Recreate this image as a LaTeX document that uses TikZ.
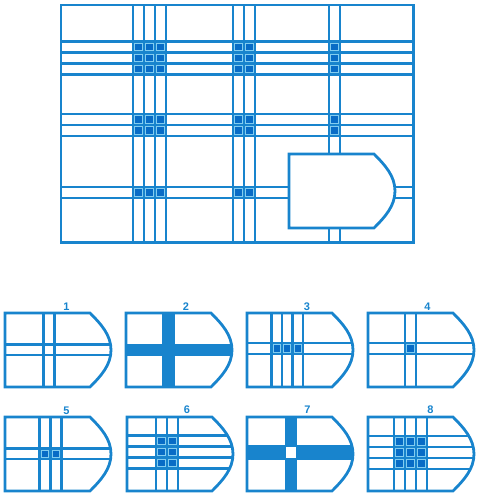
\documentclass[tikz,border=0pt]{standalone}
\usepackage{fontspec}
\setmainfont{Liberation Sans}
\definecolor{ln}{RGB}{24,132,205}
\definecolor{sqf}{RGB}{8,108,198}
\definecolor{sqb}{RGB}{130,205,240}
\tikzset{
  gl/.style={draw=ln,line width=2.2pt},
  fr/.style={draw=ln,line width=2.8pt,line join=miter},
  sqs/.style={fill=sqf,draw=sqb,line width=0.9pt},
  lab/.style={text=ln,font=\bfseries\fontsize{11}{11}\selectfont,inner sep=0pt}
}
\newcommand\shieldP{(0,0) -- (85,0) .. controls (96,11) and (106,22) .. (106,37) .. controls (106,52) and (96,63) .. (85,74) -- (0,74) -- cycle}
\newcommand\mysq[4]{\path[sqs] (#1+1.7,#2+1.7) rectangle (#1+#3-1.7,#2+#4-1.7);}
\begin{document}
\begin{tikzpicture}[x=1pt,y=-1pt]
\useasboundingbox (0,0) rectangle (480,503);
% ---------- main picture ----------
\foreach \x in {133,144,155,166,233,244,255,329,340}
  {\draw[gl] (\x,5) -- (\x,242.5);}
\foreach \y in {41.5,52.5,63.5,74.5,114,125,136,187,198}
  {\draw[gl] (61,\y) -- (413.5,\y);}
\foreach \cy in {41.5,52.5,63.5,114,125}
  {\foreach \cx in {133,144,155,233,244,329}
    {\mysq{\cx}{\cy}{11}{11}}}
\foreach \cx in {133,144,155,233,244}
  {\mysq{\cx}{187}{11}{11}}
\begin{scope}[shift={(289,154)}]
  \path[fill=white] \shieldP;
  \draw[fr] \shieldP;
\end{scope}
\draw[fr] (61,5) rectangle (413.5,242.5);
% ---------- option 1 ----------
\begin{scope}[shift={(5,313)}]
  \begin{scope}
    \clip \shieldP;
    \foreach \x in {38.5,49.5} {\draw[gl] (\x,-3) -- (\x,77);}
    \foreach \y in {31.5,42} {\draw[gl] (-3,\y) -- (110,\y);}
  \end{scope}
  \draw[fr] \shieldP;
  \node[lab] (l1) at (61.5,-6.5) {1};
\end{scope}
% ---------- option 2 ----------
\begin{scope}[shift={(126,313)}]
  \begin{scope}
    \clip \shieldP;
    \fill[ln] (36.3,-3) rectangle (49,77);
    \fill[ln] (-3,31) rectangle (110,42.7);
  \end{scope}
  \draw[fr] \shieldP;
  \node[lab] (l2) at (60,-6.5) {2};
\end{scope}
% ---------- option 3 ----------
\begin{scope}[shift={(247,313)}]
  \begin{scope}
    \clip \shieldP;
    \foreach \x in {24.5,35,45.5,56} {\draw[gl] (\x,-3) -- (\x,77);}
    \foreach \y in {30,40.7} {\draw[gl] (-3,\y) -- (110,\y);}
  \end{scope}
  \foreach \x in {24.5,35,45.5} {\mysq{\x}{30}{10.5}{10.7}}
  \draw[fr] \shieldP;
  \node[lab] (l3) at (60,-6.5) {3};
\end{scope}
% ---------- option 4 ----------
\begin{scope}[shift={(368,313)}]
  \begin{scope}
    \clip \shieldP;
    \foreach \x in {37,48} {\draw[gl] (\x,-3) -- (\x,77);}
    \foreach \y in {30,40.7} {\draw[gl] (-3,\y) -- (110,\y);}
  \end{scope}
  \mysq{37}{30}{11}{10.7}
  \draw[fr] \shieldP;
  \node[lab] (l4) at (59.5,-6.5) {4};
\end{scope}
% ---------- option 5 ----------
\begin{scope}[shift={(5,417)}]
  \begin{scope}
    \clip \shieldP;
    \foreach \x in {34.5,45.5,56.5} {\draw[gl] (\x,-3) -- (\x,77);}
    \foreach \y in {31.5,42} {\draw[gl] (-3,\y) -- (110,\y);}
  \end{scope}
  \foreach \x in {34.5,45.5} {\mysq{\x}{31.5}{11}{10.5}}
  \draw[fr] \shieldP;
  \node[lab] (l5) at (61.5,-6.5) {5};
\end{scope}
% ---------- option 6 ----------
\begin{scope}[shift={(127,417)}]
  \begin{scope}
    \clip \shieldP;
    \foreach \x in {29,40,51} {\draw[gl] (\x,-3) -- (\x,77);}
    \foreach \y in {18.5,29.5,40.5,51.5} {\draw[gl] (-3,\y) -- (110,\y);}
  \end{scope}
  \foreach \x in {29,40}
    {\foreach \y in {18.5,29.5,40.5}
      {\mysq{\x}{\y}{11}{11}}}
  \draw[fr] \shieldP;
  \node[lab] (l6) at (60,-7) {6};
\end{scope}
% ---------- option 7 ----------
\begin{scope}[shift={(247,417)}]
  \begin{scope}
    \clip \shieldP;
    \fill[ln] (37.7,-3) rectangle (50,77);
    \fill[ln] (-3,28.3) rectangle (110,42.6);
    \fill[white] (39.2,29.8) rectangle (48.5,41.1);
  \end{scope}
  \draw[fr] \shieldP;
  \node[lab] (l7) at (60.5,-7) {7};
\end{scope}
% ---------- option 8 ----------
\begin{scope}[shift={(368,417)}]
  \begin{scope}
    \clip \shieldP;
    \foreach \x in {25.7,36.7,47.7,58.7} {\draw[gl] (\x,-3) -- (\x,77);}
    \foreach \y in {18.7,29.7,40.7,51.7} {\draw[gl] (-3,\y) -- (110,\y);}
  \end{scope}
  \foreach \x in {25.7,36.7,47.7}
    {\foreach \y in {18.7,29.7,40.7}
      {\mysq{\x}{\y}{11}{11}}}
  \draw[fr] \shieldP;
  \node[lab] (l8) at (62.5,-7.5) {8};
\end{scope}
\end{tikzpicture}
\end{document}
